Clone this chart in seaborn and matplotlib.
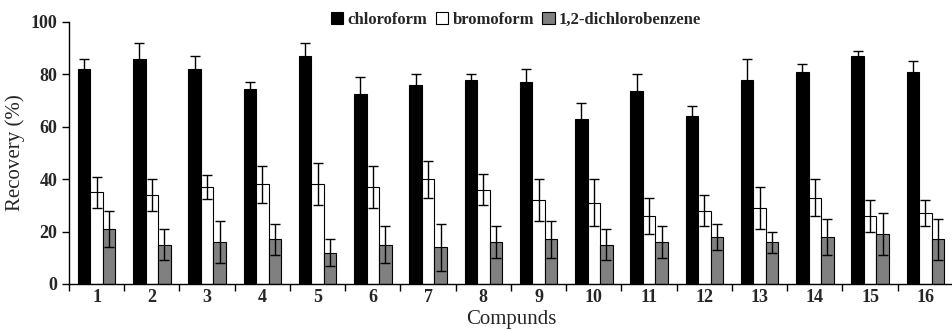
import numpy as np
import pandas as pd
import seaborn as sns
import matplotlib.pyplot as plt

compounds = [str(i) for i in range(1, 17)]
solvents = ["chloroform", "bromoform", "1,2-dichlorobenzene"]

chloroform = [82, 86, 82, 74.5, 87, 72.5, 76, 78, 77, 63, 73.5, 64, 78, 81, 87, 81]
chloroform_err = [4, 6, 5, 2.5, 5, 6.5, 4, 2, 5, 6, 6.5, 4, 8, 3, 2, 4]
bromoform = [35, 34, 37, 38, 38, 37, 40, 36, 32, 31, 26, 28, 29, 33, 26, 27]
bromoform_err = [6, 6, 4.5, 7, 8, 8, 7, 6, 8, 9, 7, 6, 8, 7, 6, 5]
dcb = [21, 15, 16, 17, 12, 15, 14, 16, 17, 15, 16, 18, 16, 18, 19, 17]
dcb_err = [7, 6, 8, 6, 5, 7, 9, 6, 7, 6, 6, 5, 4, 7, 8, 8]

colors = ["#000000", "#ffffff", "#808080"]

df = pd.DataFrame({
    "compound": compounds * 3,
    "solvent": [s for s in solvents for _ in compounds],
    "recovery": chloroform + bromoform + dcb,
    "err": chloroform_err + bromoform_err + dcb_err,
})

sns.set_style("ticks")
plt.rcParams["font.family"] = ["Liberation Serif", "DejaVu Serif"]

fig = plt.figure(figsize=(9.53, 3.31), dpi=100)
ax = fig.add_axes([69 / 953, 47 / 331, 1 - 69 / 953, 262 / 331])

sns.barplot(data=df, x="compound", y="recovery", hue="solvent", hue_order=solvents,
            palette=colors, errorbar=None, width=0.68, edgecolor="black",
            linewidth=0.8, ax=ax, legend=False)

for cont, s in zip(ax.containers, solvents):
    sub = df[df["solvent"] == s]
    xs = [p.get_x() + p.get_width() / 2 for p in cont.patches]
    ax.errorbar(xs, sub["recovery"], yerr=sub["err"], fmt="none", ecolor="black",
                elinewidth=1, capsize=3.5, capthick=1)

ax.set_ylim(0, 100)
ax.set_xlim(-0.5, 15.5)
ax.set_yticks([0, 20, 40, 60, 80, 100])
ax.set_xticks(np.arange(16))
ax.set_xticks(np.arange(-0.5, 16, 1), minor=True)
ax.tick_params(axis="x", which="major", length=0)
ax.tick_params(axis="x", which="minor", length=5, width=1, color="black")
ax.tick_params(axis="y", length=5, width=1, color="black")
for lab in ax.get_xticklabels() + ax.get_yticklabels():
    lab.set_fontweight("bold")
    lab.set_fontsize(13)
ax.set_ylabel("Recovery (%)", fontsize=15, labelpad=4)
ax.set_xlabel("Compunds", fontsize=15, labelpad=3)
for sp in ["top", "right"]:
    ax.spines[sp].set_visible(False)
for sp in ["left", "bottom"]:
    ax.spines[sp].set_linewidth(1)
    ax.spines[sp].set_color("black")

handles = [plt.Rectangle((0, 0), 1, 1, facecolor=c, edgecolor="black", linewidth=0.8)
           for c in colors]
fig.legend(handles, solvents, loc="upper center", bbox_to_anchor=(516 / 953, 1.01),
           ncol=3, frameon=False, handlelength=0.75, handleheight=0.75,
           handletextpad=0.25, columnspacing=0.5,
           prop={"weight": "bold", "size": 12})

fig.savefig("out.png", dpi=100)
